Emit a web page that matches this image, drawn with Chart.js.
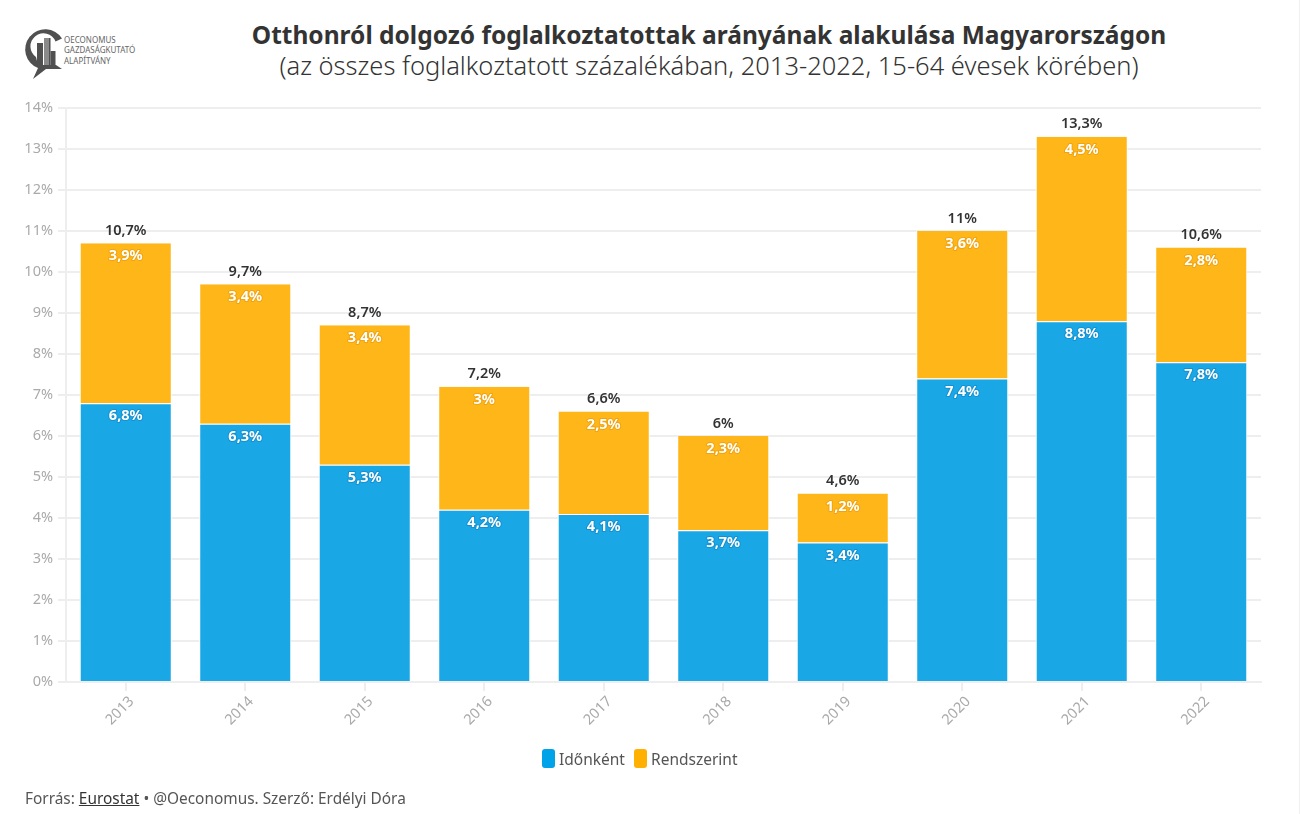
<!DOCTYPE html>
<html lang="hu">
<head>
<meta charset="utf-8">
<title>Otthonról dolgozó foglalkoztatottak</title>
<script src="https://cdn.jsdelivr.net/npm/chart.js@4"></script>
<style>
  html, body { margin: 0; padding: 0; background: #fff; overflow: hidden; }
  body { width: 1300px; height: 814px; position: relative; font-family: "Noto Sans", sans-serif; }
  #chartBox { position: absolute; left: 0; top: 0; width: 1300px; height: 814px; }
  #edge { position: absolute; left: 1299px; top: 0; width: 1px; height: 814px; background: #f0f0f0; }
  .head { position: absolute; left: 159px; width: 1100px; text-align: center; color: #333; line-height: 30px; white-space: nowrap; }
  #title { top: 20px; font-weight: 700; font-size: 24.5px; }
  #subtitle { top: 50px; font-weight: 300; font-size: 25.5px; }
  #legend { position: absolute; left: 542px; top: 749px; height: 20px; font-size: 15.5px; line-height: 20px; color: #555; white-space: nowrap; }
  #legend i { position: absolute; top: 0; width: 13px; height: 19px; border-radius: 3px; }
  #legend span { position: absolute; top: 0; }
  #foot { position: absolute; left: 25px; top: 789px; font-size: 15.4px; color: #555; line-height: 20px; }
  #foot u { color: #333; }
  #logo { position: absolute; left: 0; top: 0; }
</style>
</head>
<body>
<svg id="logo" width="140" height="90" viewBox="0 0 140 90">
  <path d="M62 38.5 A20 20 0 1 0 38 68 L33 79 L46 69 L62 69 L56 65 L38 65 L36 57 A13 13 0 1 1 55.5 41.5 Z" fill="#505050"/>
  <rect x="37" y="43" width="6" height="22" fill="#505050"/>
  <rect x="44" y="38" width="5" height="27" fill="#8a8a8a"/>
  <rect x="49" y="38" width="1.5" height="27" fill="#505050"/>
  <rect x="50.5" y="51" width="5" height="14" fill="#505050"/>
  <g font-family="Noto Sans, sans-serif" font-size="8" fill="#666">
    <text x="64" y="43">OECONOMUS</text>
    <text x="64" y="53">GAZDASÁGKUTATÓ</text>
    <text x="64" y="63.5">ALAPÍTVÁNY</text>
  </g>
</svg>
<div class="head" id="title">Otthonról dolgozó foglalkoztatottak arányának alakulása Magyarországon</div>
<div class="head" id="subtitle">(az összes foglalkoztatott százalékában, 2013-2022, 15-64 évesek körében)</div>
<div id="chartBox"><canvas id="myChart"></canvas></div>
<div id="legend"></div>
<div id="foot">Forrás: <u>Eurostat</u> • @Oeconomus. Szerző: Erdélyi Dóra</div>
<div id="edge"></div>

<script>
const years = ["2013", "2014", "2015", "2016", "2017", "2018", "2019", "2020", "2021", "2022"];
const idonkent = [6.8, 6.3, 5.3, 4.2, 4.1, 3.7, 3.4, 7.4, 8.8, 7.8];
const rendszerint = [3.9, 3.4, 3.4, 3, 2.5, 2.3, 1.2, 3.6, 4.5, 2.8];
const totals = [10.7, 9.7, 8.7, 7.2, 6.6, 6, 4.6, 11, 13.3, 10.6];
const seriesNames = ["Időnként", "Rendszerint"];

const fontName = '"Noto Sans", sans-serif';
const huNum = (v) => String(v).replace(".", ",") + "%";

// labels on the bars + total above the stack
const barLabels = {
  id: "barLabels",
  afterDatasetsDraw(chart) {
    const c = chart.ctx;
    c.save();
    c.textAlign = "center";
    c.textBaseline = "middle";
    c.lineJoin = "round";
    chart.data.datasets.forEach((ds, d) => {
      const halo = d === 0 ? "#1590cf" : "#f0a30f";
      chart.getDatasetMeta(d).data.forEach((bar, i) => {
        c.font = "700 14.5px " + fontName;
        c.strokeStyle = halo;
        c.lineWidth = 2;
        c.strokeText(huNum(ds.data[i]), bar.x, bar.y + 13);
        c.fillStyle = "#fff";
        c.fillText(huNum(ds.data[i]), bar.x, bar.y + 13);
      });
    });
    const top = chart.getDatasetMeta(1).data;
    top.forEach((bar, i) => {
      c.font = "600 14.5px " + fontName;
      c.fillStyle = "#333";
      c.fillText(huNum(totals[i]), bar.x, bar.y - 12.5);
    });
    c.restore();
  },
};

const ctx = document.getElementById("myChart");
const myChart = new Chart(ctx, {
  type: "bar",
  data: {
    labels: years,
    datasets: [
      { label: seriesNames[0], data: idonkent, backgroundColor: "#1aa7e6", borderColor: "#fff", borderWidth: { top: 1, left: 1, right: 1 }, borderSkipped: false },
      { label: seriesNames[1], data: rendszerint, backgroundColor: "#ffb619", borderColor: "#fff", borderWidth: { left: 1, right: 1 }, borderSkipped: false },
    ],
  },
  options: {
    responsive: true,
    maintainAspectRatio: false,
    animation: false,
    categoryPercentage: 0.77,
    barPercentage: 1,
    layout: { padding: { top: 108, right: 39, bottom: 72, left: 18 } },
    plugins: {
      title: { display: false },
      tooltip: { enabled: false },
      legend: { display: false },
    },
    scales: {
      x: {
        stacked: true,
        afterFit(scale) { scale.height = 60; },
        grid: { drawOnChartArea: false, offset: false, color: "#eee", lineWidth: 2, tickLength: 9 },
        border: { color: "#eee", width: 2 },
        ticks: { color: "#aaa", font: { family: fontName, size: 14.5 }, minRotation: 45, maxRotation: 45, padding: 2, labelOffset: 6 },
      },
      y: {
        stacked: true,
        min: 0,
        max: 14,
        afterFit(scale) { scale.width = 48; },
        grid: { color: "#eee", lineWidth: 2, tickLength: 8 },
        border: { color: "#eee", width: 2 },
        ticks: { stepSize: 1, color: "#aaa", padding: 5, font: { family: fontName, size: 14.5 }, callback: (v) => v + "%" },
      },
    },
  },
  plugins: [barLabels],
});

// legend is plain html, the box/text gaps of the built in one are too wide
document.getElementById("legend").innerHTML =
  `<i style="left:0;background:#00a2e8"></i><span style="left:17px">${seriesNames[0]}</span>` +
  `<i style="left:92px;background:#ffb000"></i><span style="left:109px">${seriesNames[1]}</span>`;
</script>
</body>
</html>
